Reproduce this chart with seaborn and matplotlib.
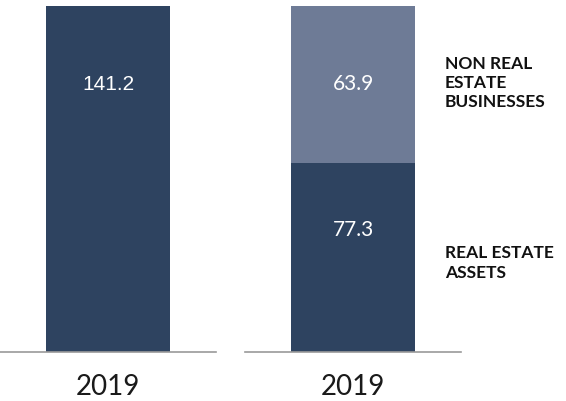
import matplotlib
matplotlib.use("Agg")
import matplotlib.pyplot as plt
import seaborn as sns
import pandas as pd

# data
years = ["2019"]
total_value = [141.2]
real_estate = [77.3]
non_real_estate = [63.9]
segment_names = ["REAL ESTATE\nASSETS", "NON REAL\nESTATE\nBUSINESSES"]

dark = "#2e4360"
light = "#6e7b96"
axis_grey = "#9a9a9a"

sns.set_theme(style="white")
plt.rcParams["font.family"] = ["Lato", "DejaVu Sans"]

W, H = 566, 401
fig = plt.figure(figsize=(W / 100, H / 100), dpi=100)

def px_axes(x0, x1, y_top, y_bot):
    return fig.add_axes([x0 / W, 1 - y_bot / H, (x1 - x0) / W, (y_bot - y_top) / H])

ax_left = px_axes(0, 216, 6, 352)
ax_right = px_axes(245, 461, 6, 352)

# left: total bar
df_total = pd.DataFrame({"year": years, "value": total_value})
sns.barplot(data=df_total, x="year", y="value", color=dark, width=0.575,
            saturation=1, linewidth=0, ax=ax_left)

# right: stacked bar (total in light, real estate in dark on top)
tot_right = [r + n for r, n in zip(real_estate, non_real_estate)]
df_stack_top = pd.DataFrame({"year": years, "value": tot_right})
df_stack_bot = pd.DataFrame({"year": years, "value": real_estate})
sns.barplot(data=df_stack_top, x="year", y="value", color=light, width=0.575,
            saturation=1, linewidth=0, ax=ax_right)
sns.barplot(data=df_stack_bot, x="year", y="value", color=dark, width=0.575,
            saturation=1, linewidth=0, ax=ax_right)

for ax in (ax_left, ax_right):
    ax.set_ylim(0, total_value[0])
    ax.set_xlim(-0.5, 0.5)
    ax.set_xlabel("")
    ax.set_ylabel("")
    ax.set_yticks([])
    for side in ("top", "left", "right"):
        ax.spines[side].set_visible(False)
    ax.spines["bottom"].set_color(axis_grey)
    ax.spines["bottom"].set_linewidth(1.2)
    ax.tick_params(axis="x", length=0, pad=16, labelsize=20, colors="#1a1a1a")
    ax.patch.set_alpha(0)

# value labels
ax_left.text(0, total_value[0] - 32, f"{total_value[0]:.1f}", ha="center", va="center",
             color="white", fontsize=15, family=["Liberation Sans", "DejaVu Sans"])
ax_right.text(0, real_estate[0] + non_real_estate[0] - 32, f"{non_real_estate[0]:.1f}",
              ha="center", va="center", color="white", fontsize=15)
ax_right.text(0, real_estate[0] - 27.5, f"{real_estate[0]:.1f}",
              ha="center", va="center", color="white", fontsize=15)

# segment legend text
fig.text(445 / W, 1 - 83 / H, segment_names[1], ha="left", va="center",
         fontsize=12.5, fontweight="bold", color="#111111", linespacing=1.25)
fig.text(445 / W, 1 - 263 / H, segment_names[0], ha="left", va="center",
         fontsize=12.5, fontweight="bold", color="#111111", linespacing=1.25)

fig.savefig("out.png", dpi=100, facecolor="white")
